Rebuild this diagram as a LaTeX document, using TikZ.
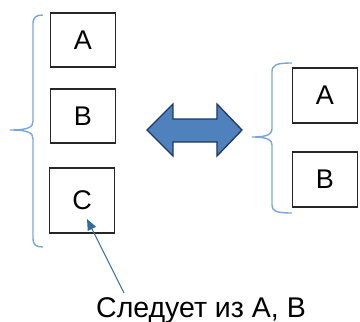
\documentclass[tikz,border=0pt]{standalone}
\usepackage{fontspec}
\setmainfont{Liberation Sans}
\usetikzlibrary{arrows.meta}
\definecolor{bracecol}{HTML}{7BA7D6}
\definecolor{arrfill}{HTML}{4F81BD}
\definecolor{arrdraw}{HTML}{1F3864}
\definecolor{pointer}{HTML}{2E6DA4}
\begin{document}
\begin{tikzpicture}[x=1pt,y=-1pt,
  letterbox/.style={draw=black!85,line width=1.1pt,minimum width=65pt,minimum height=54pt,inner sep=0pt,font=\fontsize{27}{27}\selectfont},
  bracestyle/.style={draw=bracecol,line width=1.4pt},
  lbl/.style={font=\fontsize{28.5}{30}\selectfont,inner sep=0pt}]
\useasboundingbox (0,0) rectangle (360,322);
% left column
\node[letterbox] (la) at (83,40) {A};
\node[letterbox] (lb) at (83,116) {B};
\node[letterbox,minimum height=65pt] (lc) at (82,200.5) {C};
% right column
\node[letterbox,minimum height=55pt] (ra) at (325,95.5) {A};
\node[letterbox,minimum height=55pt] (rb) at (325,179.5) {B};
% left brace
\path[bracestyle] (43,15) .. controls (36,15) and (33,17) .. (33,24) -- (33,121)
  .. controls (33,127) and (29,130) .. (10,130)
  .. controls (29,130) and (33,133) .. (33,139) -- (33,238)
  .. controls (33,245) and (36,247) .. (43,247);
% right brace
\path[bracestyle] (292,63) .. controls (276,63) and (272,65) .. (272,72) -- (272,129)
  .. controls (272,134) and (268,137) .. (252,137)
  .. controls (268,137) and (272,140) .. (272,145) -- (272,205)
  .. controls (272,211) and (276,213) .. (292,213);
% double arrow
\path[fill=arrfill,draw=arrdraw,line width=1.3pt,line join=miter]
  (147,130) -- (173,104) -- (173,119) -- (217,119) -- (217,104) -- (242,130)
  -- (217,156) -- (217,142) -- (173,142) -- (173,156) -- cycle;
% caption
\node[lbl,anchor=base] (txt) at (201,317) {Следует из А, В};
\coordinate (cstart) at (124,293);
\coordinate (ctip) at (87,219);
\draw[pointer,line width=1.1pt,-{Triangle[length=11pt,width=9pt]}] (cstart) -- (ctip);
\end{tikzpicture}
\end{document}
